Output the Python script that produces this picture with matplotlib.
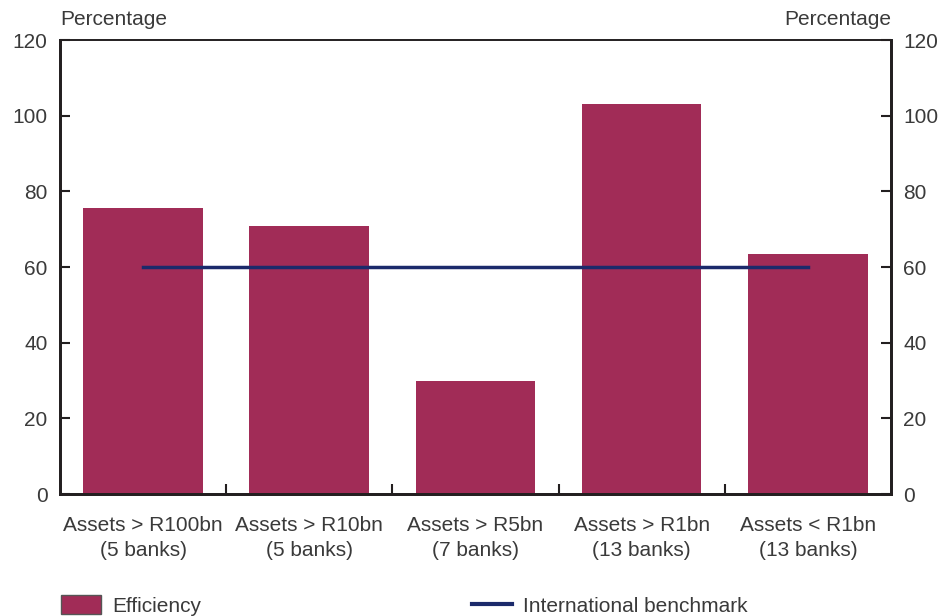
import matplotlib.pyplot as plt
from matplotlib.patches import Patch
from matplotlib.lines import Line2D

# data
categories = ['Assets > R100bn\n(5 banks)', 'Assets > R10bn\n(5 banks)', 'Assets > R5bn\n(7 banks)',
              'Assets > R1bn\n(13 banks)', 'Assets < R1bn\n(13 banks)']
efficiency = [75.7, 70.8, 30.0, 103.0, 63.5]
benchmark = [60, 60, 60, 60, 60]
yticks = [0, 20, 40, 60, 80, 100, 120]

bar_color = '#a12c57'
line_color = '#1b2a6b'
txt_color = '#3a3a3a'
spine_color = '#231f20'

plt.rcParams['font.family'] = ['Liberation Sans', 'DejaVu Sans']
plt.rcParams['font.size'] = 15

fig = plt.figure(figsize=(9.46, 6.16), dpi=100)
ax = fig.add_axes([0.0634, 0.198, 0.8784, 0.737])

x = list(range(len(categories)))
ax.bar(x, efficiency, width=0.72, color=bar_color, zorder=2)
ax.plot(x, benchmark, color=line_color, lw=2.5, zorder=3)

ax.set_xlim(-0.5, len(categories) - 0.5)
ax.set_ylim(0, 120)
ax.set_yticks(yticks)
ax.set_xticks(x)
ax.set_xticklabels(categories, color=txt_color, linespacing=1.4)
ax.set_xticks([i + 0.5 for i in x[:-1]], minor=True)
ax.tick_params(axis='x', which='major', length=0, pad=16)
ax.tick_params(axis='x', which='minor', direction='in', length=7, width=1.5, color=spine_color)
ax.tick_params(axis='y', direction='in', length=7, width=1.5, color=spine_color,
               labelcolor=txt_color, pad=9)

ax2 = ax.twinx()
ax2.set_ylim(0, 120)
ax2.set_yticks(yticks)
ax2.tick_params(axis='y', direction='in', length=7, width=1.5, color=spine_color,
                labelcolor=txt_color, pad=9)

for a in (ax, ax2):
    for s in ['left', 'right', 'bottom']:
        a.spines[s].set_linewidth(2)
        a.spines[s].set_color(spine_color)
    a.spines['top'].set_linewidth(1.2)
    a.spines['top'].set_color(spine_color)

ax.text(0, 1.025, 'Percentage', transform=ax.transAxes, ha='left', va='bottom', color=txt_color)
ax.text(1, 1.025, 'Percentage', transform=ax.transAxes, ha='right', va='bottom', color=txt_color)

handles = [Patch(facecolor=bar_color, edgecolor='#555555', linewidth=1),
           Line2D([0], [0], color=line_color, lw=3)]
fig.legend(handles, ['Efficiency', 'International benchmark'], loc='lower left',
           bbox_to_anchor=(0.045, -0.03), ncol=2, frameon=False, handlelength=1.9,
           handleheight=1.0, columnspacing=13.0, handletextpad=0.55, labelcolor=txt_color)

fig.savefig('out.png', dpi=100)
